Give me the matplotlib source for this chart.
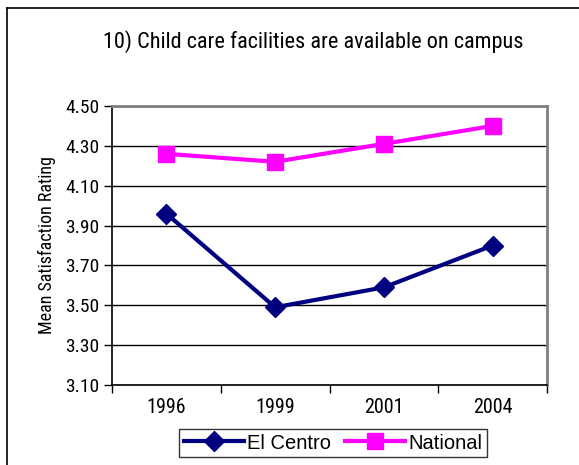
import matplotlib
matplotlib.use("Agg")
import matplotlib.pyplot as plt
from matplotlib.lines import Line2D
from matplotlib import font_manager

years = ["1996", "1999", "2001", "2004"]
el_centro = [3.96, 3.49, 3.59, 3.80]
national = [4.26, 4.22, 4.31, 4.40]
yticks = [3.10, 3.30, 3.50, 3.70, 3.90, 4.10, 4.30, 4.50]
title = "10) Child care facilities are available on campus"

names = {f.name for f in font_manager.fontManager.ttflist}
narrow = "Liberation Sans"
for cand in ["Liberation Sans Narrow", "Arial Narrow", "Roboto Condensed", "IBM Plex Sans Condensed"]:
    if cand in names:
        narrow = cand
        break

W, H = 579, 465
fig = plt.figure(figsize=(W / 100, H / 100), dpi=100)
fig.patch.set_facecolor("white")

# outer chart frame
fig.add_artist(Line2D([7 / W, 7 / W], [0, 1 - 8 / H], color="black", lw=1.2))
fig.add_artist(Line2D([7 / W, 1], [1 - 8 / H, 1 - 8 / H], color="black", lw=1.2))

left, right, top, bottom = 112, 547, 106, 385
ax = fig.add_axes([left / W, 1 - bottom / H, (right - left) / W, (bottom - top) / H])

x = list(range(len(years)))
ax.plot(x, el_centro, color="#000080", lw=3, marker="D", markersize=10, label="El Centro", zorder=3)
ax.plot(x, national, color="#FF00FF", lw=3, marker="s", markersize=12, label="National", zorder=3)

ax.set_xlim(-0.5, len(years) - 0.5)
ax.set_ylim(3.10, 4.50)
ax.set_yticks(yticks)
ax.set_yticklabels([f"{v:.2f}" for v in yticks], fontfamily=narrow, fontsize=14)
ax.set_xticks(x)
ax.set_xticklabels(years, fontfamily=narrow, fontsize=14.5)
ax.set_xticks([i - 0.5 for i in range(len(years) + 1)], minor=True)
ax.tick_params(axis="x", which="major", length=0, pad=9)
ax.tick_params(axis="x", which="minor", length=6, width=1, direction="out")
ax.tick_params(axis="y", length=6, width=1, direction="out", pad=3)
ax.yaxis.grid(True, color="black", lw=1)
ax.set_axisbelow(True)
for s in ["top", "right"]:
    ax.spines[s].set_color("#808080")
    ax.spines[s].set_linewidth(2)
for s in ["left", "bottom"]:
    ax.spines[s].set_color("black")
    ax.spines[s].set_linewidth(1.2)

ax.set_ylabel("Mean Satisfaction Rating", fontfamily=narrow, fontsize=13, labelpad=7)

fig.text(313 / W, 1 - 42 / H, title, ha="center", va="center", fontfamily=narrow, fontsize=16)

leg = fig.legend(loc="center", bbox_to_anchor=(333 / W, 1 - 443 / H), ncol=2,
                 prop={"family": "Liberation Sans", "size": 14.5}, frameon=True,
                 fancybox=False, edgecolor="black", handlelength=3, columnspacing=0.7,
                 handletextpad=0.15, borderpad=0.2, borderaxespad=0)
leg.get_frame().set_linewidth(1)

fig.savefig("out.png", dpi=100)
